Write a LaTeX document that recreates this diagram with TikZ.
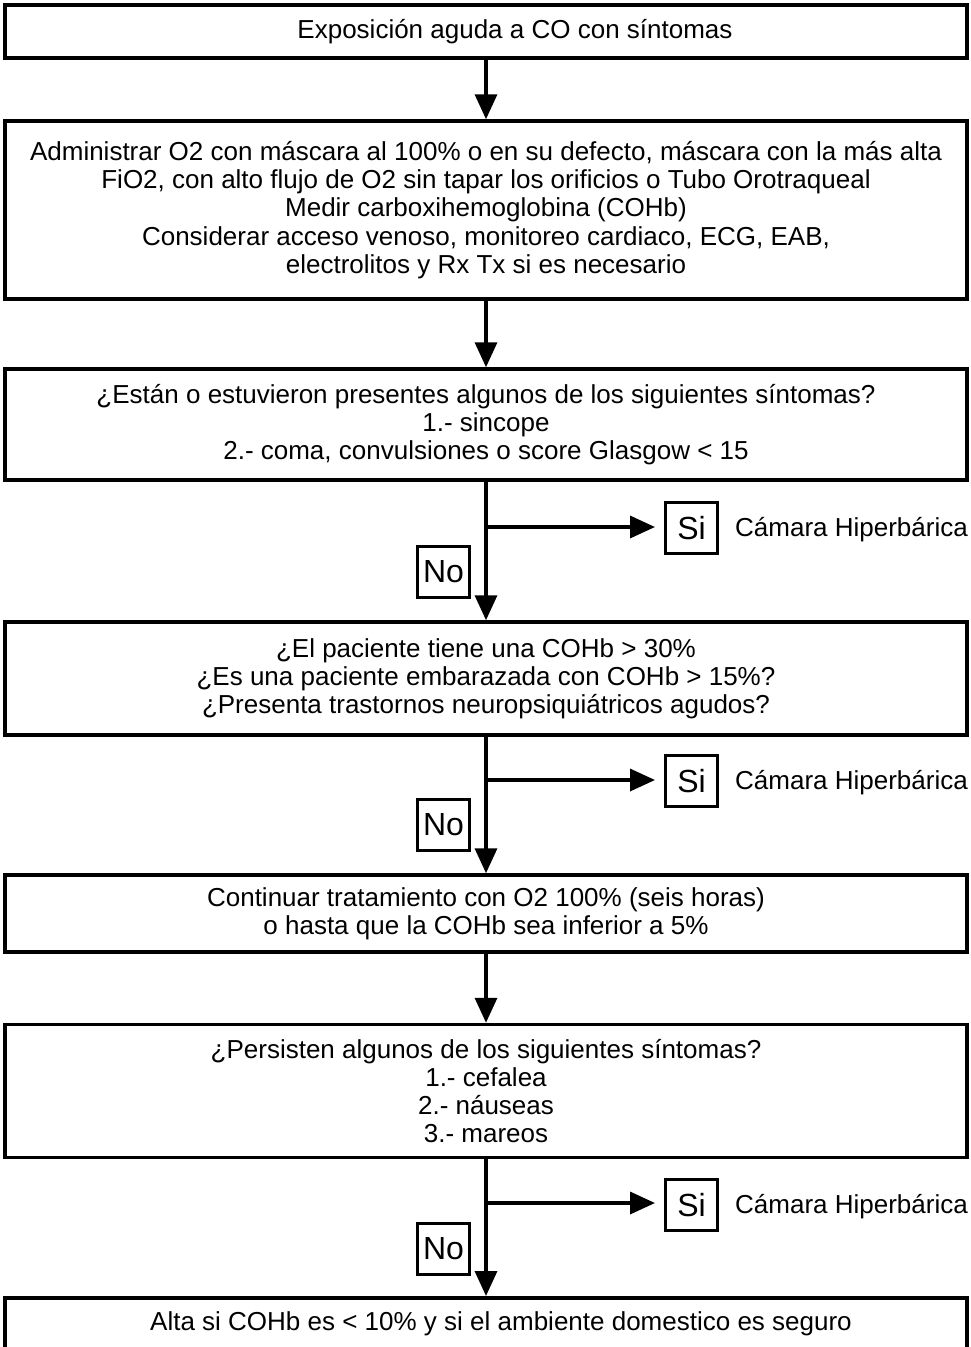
\documentclass[tikz,border=0pt]{standalone}
\usepackage{fontspec}
\setmainfont{Liberation Sans}
\usetikzlibrary{arrows.meta}

\tikzset{
  paso/.style={draw, line width=3.5pt, minimum width=962pt, align=center,
    inner sep=0pt, font=\fontsize{26}{28.2}\selectfont},
  resp/.style={draw, line width=3pt, minimum width=52pt, minimum height=51pt,
    inner sep=0pt, font=\fontsize{32}{34}\selectfont},
  camara/.style={anchor=west, inner sep=0pt, font=\fontsize{26}{28}\selectfont},
  flecha/.style={line width=3.5pt, -{Triangle[length=25pt,width=22pt]}}
}

\begin{document}
\begin{tikzpicture}[x=1pt,y=-1pt]
\useasboundingbox (0,0) rectangle (971,1347);

\node[paso, minimum height=53pt] (expo) at (486,31.5) {\hspace*{58pt}Exposición aguda a CO con síntomas};
\node[paso, minimum height=178pt] (oxig) at (486,210) {Administrar O2 con máscara al 100\% o en su defecto, máscara con la más alta\\
FiO2, con alto flujo de O2 sin tapar los orificios o Tubo Orotraqueal\\
Medir carboxihemoglobina (COHb)\\
Considerar acceso venoso, monitoreo cardiaco, ECG, EAB,\\
electrolitos y Rx Tx si es necesario};
\node[paso, minimum height=111pt] (sint) at (486,424.5) {¿Están o estuvieron presentes algunos de los siguientes síntomas?\\
1.- sincope\\
2.- coma, convulsiones o score Glasgow < 15};
\node[paso, minimum height=113pt] (cohb) at (486,678.5) {¿El paciente tiene una COHb > 30\%\\
¿Es una paciente embarazada con COHb > 15\%?\\
¿Presenta trastornos neuropsiquiátricos agudos?};
\node[paso, minimum height=77pt] (trat) at (486,913.5) {Continuar tratamiento con O2 100\% (seis horas)\\
o hasta que la COHb sea inferior a 5\%};
\node[paso, minimum height=133pt] (pers) at (486,1091) {¿Persisten algunos de los siguientes síntomas?\\
1.- cefalea\\
2.- náuseas\\
3.- mareos};
\node[paso, minimum height=70pt, anchor=north] (alta) at (486,1296) {\raisebox{0pt}[0pt][0pt]{\raisebox{2pt}{\hspace*{30pt}Alta si COHb es < 10\% y si el ambiente domestico es seguro}}};

% ramas hacia la camara
\coordinate (r1) at (486,527);
\coordinate (r2) at (486,780);
\coordinate (r3) at (486,1203);
\node[resp] (si1) at (691.5,528) {Si};
\node[resp] (si2) at (691.5,781) {Si};
\node[resp] (si3) at (691.5,1205) {Si};
\node[resp] (no1) at (443.5,571.5) {No};
\node[resp] (no2) at (443.5,824.5) {No};
\node[resp] (no3) at (443.5,1248.5) {No};
\node[camara] (cam1) at (735,530) {Cámara Hiperbárica};
\node[camara] (cam2) at (735,783) {Cámara Hiperbárica};
\node[camara] (cam3) at (735,1207) {Cámara Hiperbárica};

\draw[flecha] (expo) -- (oxig);
\draw[flecha] (oxig) -- (sint);
\draw[flecha] (sint) -- (cohb);
\draw[flecha] (cohb) -- (trat);
\draw[flecha] (trat) -- (pers);
\draw[flecha] (pers) -- (alta);
\draw[flecha] (r1) -- ([xshift=-9pt]r1 -| si1.west);
\draw[flecha] (r2) -- ([xshift=-9pt]r2 -| si2.west);
\draw[flecha] (r3) -- ([xshift=-9pt]r3 -| si3.west);
\end{tikzpicture}
\end{document}
